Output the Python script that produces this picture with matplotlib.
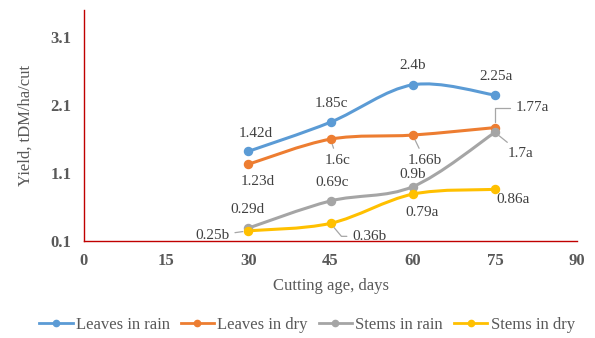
import numpy as np
import matplotlib
matplotlib.use("Agg")
import matplotlib.pyplot as plt
from matplotlib.path import Path
from matplotlib.patches import PathPatch

plt.rcParams['font.family'] = ['Liberation Serif', 'DejaVu Serif']

days = [30, 45, 60, 75]
series_names = ["Leaves in rain", "Leaves in dry", "Stems in rain", "Stems in dry"]
leaves_rain = [1.42, 1.85, 2.40, 2.25]
leaves_dry = [1.23, 1.60, 1.66, 1.77]
stems_rain = [0.29, 0.69, 0.90, 1.70]
stems_dry = [0.25, 0.36, 0.79, 0.86]
letters_leaves_rain = ["d", "c", "b", "a"]
letters_leaves_dry = ["d", "c", "b", "a"]
letters_stems_rain = ["d", "c", "b", "a"]
letters_stems_dry = ["b", "b", "a", "a"]
x_ticks = [0, 15, 30, 45, 60, 75, 90]
y_ticks = [0.1, 1.1, 2.1, 3.1]

colors = ["#5B9BD5", "#ED7D31", "#A5A5A5", "#FFC000"]
series = [leaves_rain, leaves_dry, stems_rain, stems_dry]
letters = [letters_leaves_rain, letters_leaves_dry, letters_stems_rain, letters_stems_dry]

fig = plt.figure(figsize=(5.95, 3.38), dpi=100)
ax = fig.add_axes([0.141, 0.287, 0.829, 0.683])
ax.set_xlim(0, 90)
ax.set_ylim(0.1, 3.5)


def smooth_path(xs, ys):
    # Catmull-Rom style cubic Bezier through every point
    pts = np.column_stack([xs, ys]).astype(float)
    n = len(pts)
    verts = [pts[0]]
    codes = [Path.MOVETO]
    for i in range(n - 1):
        p0 = pts[i - 1] if i > 0 else pts[i]
        p1 = pts[i]
        p2 = pts[i + 1]
        p3 = pts[i + 2] if i + 2 < n else pts[i + 1]
        c1 = p1 + (p2 - p0) / 6.0
        c2 = p2 - (p3 - p1) / 6.0
        verts += [c1, c2, p2]
        codes += [Path.CURVE4] * 3
    return Path(verts, codes)


for vals, col, name in zip(series, colors, series_names):
    ax.add_patch(PathPatch(smooth_path(days, vals), facecolor="none",
                           edgecolor=col, lw=2.2, zorder=3))
    ax.plot(days, vals, "o", color=col, ms=5.8, zorder=4)
    ax.plot([], [], "-o", color=col, lw=2.0, ms=4.5, label=name)

# value labels: (series index, point index, dx px, dy px, leader style)
label_pos = [
    (0, 0, 7, 18, None), (0, 1, 1, 19, None), (0, 2, 0, 19, None), (0, 3, 1, 19, None),
    (1, 0, 9, -17, None), (1, 1, 7, -21, "arc3"), (1, 2, 12, -25, "arc3"),
    (1, 3, 37, 20, "angle,angleA=0,angleB=90"),
    (2, 0, -1, 19, None), (2, 1, 2, 18, None), (2, 2, 0, 12, None), (2, 3, 26, -21, "arc3"),
    (3, 0, -36, -5, "arc3"), (3, 1, 39, -13, "angle,angleA=0,angleB=-50"),
    (3, 2, 9, -18, None), (3, 3, 18, -10, None),
]
for si, pi, dx, dy, leader in label_pos:
    xv, yv = days[pi], series[si][pi]
    txt = f"{yv:g}{letters[si][pi]}"
    kw = dict(xy=(xv, yv), xytext=(dx, dy), textcoords="offset pixels",
              ha="center", va="center", fontsize=11, color="#404040", zorder=5)
    if leader:
        kw["arrowprops"] = dict(arrowstyle="-", color="#A6A6A6", lw=0.9,
                                shrinkA=2, shrinkB=4, connectionstyle=leader)
    ax.annotate(txt, **kw)

for s in ["top", "right"]:
    ax.spines[s].set_visible(False)
for s in ["left", "bottom"]:
    ax.spines[s].set_color("#C00000")
    ax.spines[s].set_linewidth(1.0)

ax.set_xticks(x_ticks)
ax.set_yticks(y_ticks)
ax.set_yticklabels([f"{t:.1f}" for t in y_ticks])
ax.tick_params(length=0, pad=9, colors="#595959", labelsize=12)
for lab in ax.get_xticklabels() + ax.get_yticklabels():
    lab.set_fontweight("bold")

ax.set_xlabel("Cutting age, days", fontsize=12, color="#595959", labelpad=6)
ax.set_ylabel("Yield, tDM/ha/cut", fontsize=12, color="#595959", labelpad=12)

fig.legend(loc="center", bbox_to_anchor=(0.516, 0.038), ncol=4, frameon=False,
           fontsize=12, labelcolor="#595959", handlelength=2.0, handletextpad=0.2,
           columnspacing=0.65)

fig.savefig("out.png", dpi=100)
